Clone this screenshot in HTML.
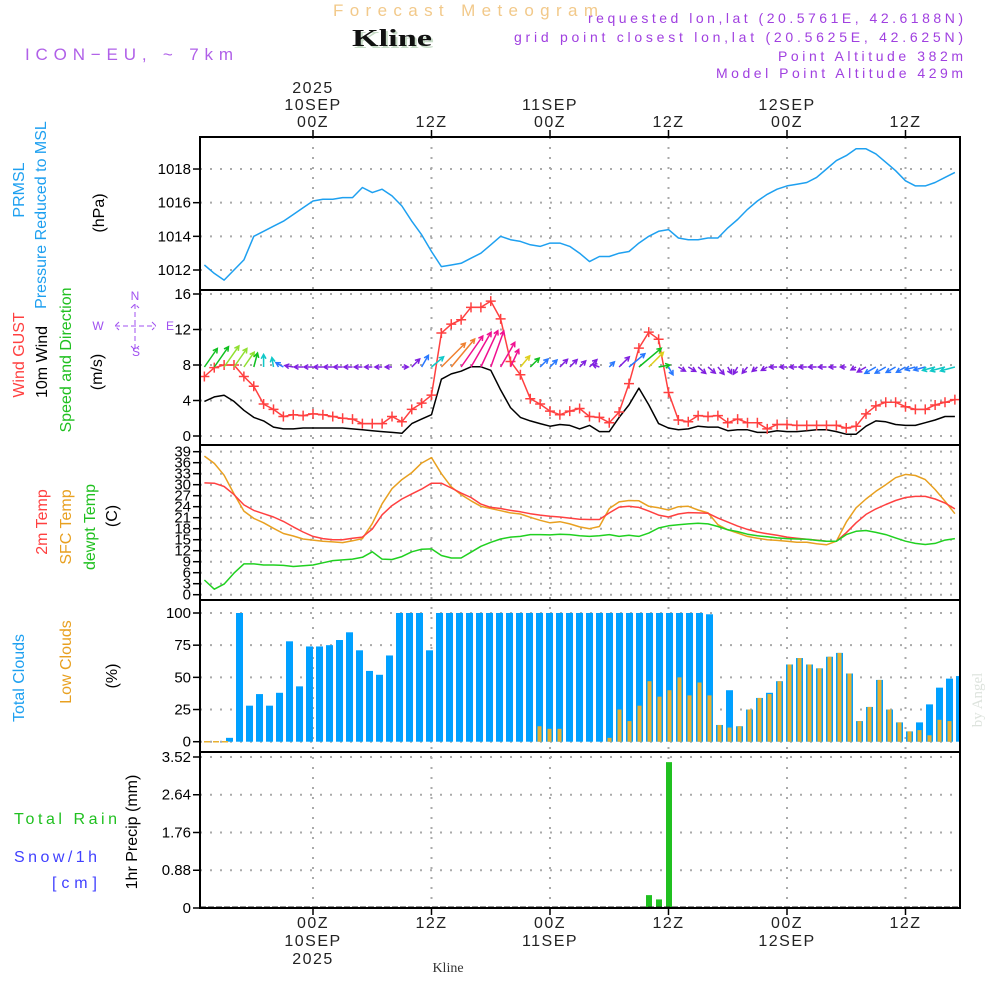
<!DOCTYPE html>
<html><head><meta charset="utf-8"><title>Forecast Meteogram Kline</title>
<style>
html,body{margin:0;padding:0;background:#fff;}
svg{display:block;font-family:"Liberation Sans",sans-serif;}
</style></head>
<body>
<svg id="chart" width="1000" height="1000" viewBox="0 0 1000 1000">
<rect x="0" y="0" width="1000" height="1000" fill="#fff"/>
<text x="333" y="16" textLength="265" lengthAdjust="spacing" font-size="17" fill="#f2c98a">Forecast Meteogram</text>
<text x="354" y="48" textLength="80" lengthAdjust="spacingAndGlyphs" font-size="24" font-weight="bold" font-family="Liberation Serif,serif" fill="#c8dcc8">Kline</text>
<text x="352" y="46" textLength="80" lengthAdjust="spacingAndGlyphs" font-size="24" font-weight="bold" font-family="Liberation Serif,serif" fill="#111">Kline</text>
<text x="25" y="60" textLength="208" lengthAdjust="spacing" font-size="17" fill="#b060e8">ICON−EU, ~ 7km</text>
<g font-size="14" fill="#a040e0">
<text x="588" y="23" textLength="375" lengthAdjust="spacing">requested lon,lat (20.5761E, 42.6188N)</text>
<text x="514" y="42" textLength="449" lengthAdjust="spacing">grid point closest lon,lat (20.5625E, 42.625N)</text>
<text x="778" y="61" textLength="185" lengthAdjust="spacing">Point Altitude 382m</text>
<text x="716" y="78" textLength="247" lengthAdjust="spacing">Model Point Altitude 429m</text>
</g>
<g id="axes"></g>
<g id="marks"></g>
<text transform="translate(982,700) rotate(-90)" text-anchor="middle" font-size="15" font-family="Liberation Serif,serif" fill="#dde3dd">by Angel</text>
</svg>
<script>
// ---- data (hourly, hour -11 .. 65 relative to 00Z 10SEP) ----
var hourStart = -11;
var timeTickHours = [0, 12, 24, 36, 48, 60];
var timeTickTop = [["2025","10SEP","00Z"],["12Z"],["11SEP","00Z"],["12Z"],["12SEP","00Z"],["12Z"]];
var timeTickBottom = [["00Z","10SEP","2025"],["12Z"],["00Z","11SEP"],["12Z"],["00Z","12SEP"],["12Z"]];
var pressure = [1012.3,1011.8,1011.4,1012.0,1012.6,1014.0,1014.3,1014.6,1014.9,1015.3,1015.7,1016.1,1016.2,1016.2,1016.3,1016.3,1016.9,1016.6,1016.8,1016.4,1015.8,1014.9,1014.1,1013.1,1012.2,1012.3,1012.4,1012.7,1013.0,1013.5,1014.0,1013.8,1013.7,1013.5,1013.4,1013.6,1013.6,1013.4,1013.0,1012.5,1012.8,1012.8,1013.0,1013.1,1013.6,1014.0,1014.3,1014.4,1013.9,1013.8,1013.8,1013.9,1013.9,1014.5,1015.0,1015.6,1016.1,1016.5,1016.8,1017.0,1017.1,1017.2,1017.5,1018.0,1018.5,1018.8,1019.2,1019.2,1018.9,1018.4,1017.9,1017.3,1017.0,1017.0,1017.2,1017.5,1017.8];
var pressureTicks = [1012,1014,1016,1018];
var gust = [6.7,7.7,8.0,8.0,6.7,5.6,3.6,3.0,2.2,2.4,2.3,2.5,2.4,2.2,2.0,1.9,1.4,1.4,1.4,2.2,1.6,3.0,3.7,4.6,11.6,12.6,13.1,14.5,14.5,15.2,13.2,8.4,6.9,4.2,3.6,2.8,2.4,2.8,3.1,2.2,2.1,1.5,2.7,5.9,9.9,11.7,10.9,4.9,1.8,1.6,2.3,2.2,2.3,1.5,1.9,1.5,1.5,0.8,1.3,1.3,1.2,1.2,1.2,1.2,1.2,0.9,1.1,2.5,3.4,3.8,3.8,3.3,3.0,3.0,3.5,3.8,4.1];
var wind10m = [3.9,4.4,4.6,3.9,2.9,2.1,1.7,1.0,0.8,0.8,0.9,0.9,0.9,0.9,0.9,0.8,0.7,0.6,0.5,0.4,0.3,1.4,1.9,2.4,6.4,7.0,7.3,7.8,7.8,7.4,5.2,3.2,2.1,1.7,1.4,1.1,1.3,1.2,0.8,1.2,0.5,0.5,2.1,3.5,5.4,3.5,1.4,0.9,0.7,0.8,1.1,1.0,1.0,0.6,0.7,0.7,0.4,0.4,0.6,0.5,0.5,0.6,0.7,0.7,0.5,0.2,0.2,1.1,1.7,1.6,1.3,1.2,1.2,1.5,1.8,2.2,2.2];
var windDir = [55,55,55,55,55,75,90,100,150,170,180,180,180,180,180,180,180,180,180,180,0,45,60,40,45,50,55,60,65,70,60,65,50,45,45,45,45,45,45,45,160,45,45,40,40,45,10,-60,-30,-30,-40,-40,-50,-60,-120,-130,-140,-150,180,180,180,180,180,180,180,180,210,210,210,210,210,210,195,195,195,195,195];
var windColorCode = "gglllgccbpppppppppppppbcoommmmmmygbbpppppbpbgygbppppppppppppppppppppbbbbbbccccc";
var temp2m = [30.5,30.4,29.5,27.3,24.5,23.0,22.1,21.2,20.0,18.5,17.1,15.9,15.3,15.0,15.0,15.4,15.7,17.9,21.8,24.3,26.1,27.5,28.8,30.4,30.4,29.1,27.7,26.5,24.7,23.8,23.5,23.0,22.6,22.1,21.7,21.4,21.2,20.9,20.6,20.5,20.5,22.3,23.9,24.1,23.8,22.8,21.7,21.2,22.0,22.4,22.3,22.2,20.9,19.8,18.7,17.8,17.1,16.6,16.2,15.7,15.4,15.1,14.9,14.6,14.6,16.9,19.6,21.9,23.4,24.6,25.7,26.5,26.8,26.8,26.1,25.0,23.4];
var tempSfc = [37.8,35.8,32.6,27.5,22.8,20.8,19.6,18.1,16.7,16.0,15.2,14.9,14.6,14.4,14.2,14.7,15.3,19.4,24.8,28.9,31.4,33.3,35.9,37.4,33.0,29.4,27.3,25.6,24.1,23.5,22.9,22.3,22.0,21.1,20.3,19.6,19.9,19.3,18.5,18.0,18.6,23.5,25.3,25.7,25.6,24.1,23.7,23.1,24.0,24.1,23.1,22.3,19.1,17.7,16.8,15.9,15.4,15.0,14.8,14.6,14.3,14.3,13.9,13.6,14.6,19.8,23.7,26.1,28.2,30.0,31.9,32.8,32.5,31.4,28.7,25.5,22.1];
var dewpt = [4.0,1.5,2.9,5.9,8.4,8.4,8.1,8.1,8.0,7.7,7.9,8.1,8.7,9.3,9.5,9.7,10.2,11.7,9.7,9.6,10.4,11.7,12.4,12.5,10.7,10.0,10.0,11.6,13.2,14.3,15.2,15.7,15.9,16.4,16.4,16.3,16.5,16.4,16.1,15.9,16.1,16.4,15.9,16.2,15.9,16.8,18.2,18.8,19.1,19.3,19.5,19.3,18.6,17.7,17.2,16.5,16.1,15.8,15.5,15.3,15.2,15.1,14.8,14.6,14.6,16.4,17.3,17.5,17.0,16.4,15.5,14.6,14.0,13.7,14.0,14.9,15.3];
var tempTicks = [0,3,6,9,12,15,18,21,24,27,30,33,36,39];
var cloudHourStart = -10;
var totalClouds = [0,0,3,100,28,37,28,38,78,43,74,74,75,79,85,71,55,52,67,100,100,100,71,100,100,100,100,100,100,100,100,100,100,100,100,100,100,100,100,100,100,100,100,100,100,100,100,100,100,100,99,13,40,12,25,34,38,47,60,65,60,57,66,69,53,16,27,48,25,15,8,15,29,42,49,51];
var lowClouds = [0,0,0,0,0,0,0,0,0,0,0,0,0,0,0,0,0,0,0,0,0,0,0,0,0,0,0,0,0,0,0,0,0,12,10,10,0,0,0,0,3,25,16,28,47,35,40,50,36,46,36,13,11,12,25,34,37,47,60,65,60,57,66,69,53,16,27,48,25,15,8,9,5,17,16,0];
var cloudTicks = [0,25,50,75,100];
var precipHours = [34,35,36];
var precipValues = [0.3,0.2,3.4];
var precipTicks = [0,0.88,1.76,2.64,3.52];

// ---- axis functions ----
var X0 = 200, X1 = 960;
function xs(h){ return 313 + h*9.875; }
function bx(h){ return 306 + h*10; }
function yP(v){ return 270 - (v-1012)*16.83; }
function yW(v){ return 436 - v*8.875; }
function yT(v){ return 594.7 - v*3.667; }
function yC(v){ return 741.7 - v*1.287; }
function yR(v){ return 908 - v*42.9; }
var panels = [[137,290,'pressure-panel'],[290,445,'wind-panel'],[445,600,'temperature-panel'],[600,752,'cloud-panel'],[752,908,'precip-panel']];

var NS = 'http://www.w3.org/2000/svg';
var axes = document.getElementById('axes');
var marks = document.getElementById('marks');
function mk(parent, tag, attrs){
  var e = document.createElementNS(NS, tag);
  for (var k in attrs) e.setAttribute(k, attrs[k]);
  parent.appendChild(e);
  return e;
}
function txt(parent, x, y, s, attrs){
  var e = mk(parent, 'text', attrs);
  e.setAttribute('x', x); e.setAttribute('y', y);
  e.textContent = s;
  return e;
}
function rtxt(parent, x, y, s, fill, size){
  var e = mk(parent, 'text', {transform:'translate('+x+','+y+') rotate(-90)','text-anchor':'middle','font-size':size||15,fill:fill});
  e.textContent = s;
  return e;
}
var el;
function hgrid(y, name){
  el = mk(axes,'line',{x1:X0,x2:X1,y1:y,y2:y,stroke:'#aaa','stroke-width':2,'stroke-dasharray':'2,8'});
  
  
}
function ytick(y, label, name){
  el = mk(axes,'line',{x1:193,x2:200,y1:y,y2:y,stroke:'#000','stroke-width':1.5});
  
  
  el = txt(axes, 191, y+5, label, {'text-anchor':'end','font-size':15,fill:'#000'});
  
  
}
pressureTicks.forEach(function(v){ hgrid(yP(v),'pressure-gridline'); ytick(yP(v), String(v), 'pressure-axis'); });
[0,4,8,12,16].forEach(function(v){ hgrid(yW(v),'wind-gridline'); ytick(yW(v), String(v), 'wind-axis'); });
tempTicks.forEach(function(v){ hgrid(yT(v),'temp-gridline'); ytick(yT(v), String(v), 'temp-axis'); });
cloudTicks.forEach(function(v){ hgrid(yC(v),'cloud-gridline'); ytick(yC(v), String(v), 'cloud-axis'); });
precipTicks.forEach(function(v){ if(v>0) hgrid(yR(v),'precip-gridline'); ytick(yR(v), v===0?'0':v.toFixed(2), 'precip-axis'); });
timeTickHours.forEach(function(h, i){
  var x = xs(h);
  el = mk(axes,'line',{x1:x,x2:x,y1:137,y2:908,stroke:'#aaa','stroke-width':2,'stroke-dasharray':'2,8'});
  
  
  el = mk(axes,'line',{x1:x,x2:x,y1:130,y2:137,stroke:'#000','stroke-width':1.5});
  
  
  el = mk(axes,'line',{x1:x,x2:x,y1:908,y2:915,stroke:'#000','stroke-width':1.5});
  
  
  var top = timeTickTop[i];
  top.forEach(function(s, j){
    el = txt(axes, x, 127 - (top.length-1-j)*17, s, {'text-anchor':'middle','font-size':16,fill:'#222','letter-spacing':'1.5'});
    
    
  });
  timeTickBottom[i].forEach(function(s, j){
    el = txt(axes, x, 928 + j*18, s, {'text-anchor':'middle','font-size':16,fill:'#222','letter-spacing':'1.5'});
    
    
  });
});
el = txt(axes, 448, 972, 'Kline', {'text-anchor':'middle','font-size':14,'font-family':'Liberation Serif,serif',fill:'#333'});



function lt(x,y,s,fill,name){ el = rtxt(axes,x,y,s,fill,16);   }
lt(24,190,'PRMSL','#1ea0f0','pressure-title');
lt(46,215,'Pressure Reduced to MSL','#1ea0f0','pressure-subtitle');
lt(104,213,'(hPa)','#000','pressure-unit');
lt(24,355,'Wind GUST','#ff4040','gust-title');
lt(47,362,'10m Wind','#000','wind-title');
lt(71,360,'Speed and Direction','#20c020','wind-direction-title');
lt(102,372,'(m/s)','#000','wind-unit');
lt(47,522,'2m Temp','#ff4040','temp2m-title');
lt(71,527,'SFC Temp','#e8a020','sfc-temp-title');
lt(95,527,'dewpt Temp','#20c020','dewpt-title');
lt(117,516,'(C)','#000','temp-unit');
lt(24,678,'Total Clouds','#1ea0f0','total-clouds-title');
lt(71,662,'Low Clouds','#e8a020','low-clouds-title');
lt(117,676,'(%)','#000','cloud-unit');
lt(137,832,'1hr Precip (mm)','#000','precip-title');
el = txt(axes,14,824,'Total  Rain',{'font-size':16,fill:'#20c020','xml:space':'preserve',textLength:103,lengthAdjust:'spacing'});


el = txt(axes,14,862,'Snow/1h',{'font-size':16,fill:'#4040ff',textLength:83,lengthAdjust:'spacing'});


el = txt(axes,52,888,'[cm]',{'font-size':16,fill:'#4040ff',textLength:45,lengthAdjust:'spacing'});


var cg = mk(axes,'g',{fill:'#a050f0','font-size':12,'text-anchor':'middle'});


txt(cg,135,300,'N',{}); txt(cg,98,330,'W',{}); txt(cg,170,330,'E',{}); txt(cg,136,356,'S',{});
mk(cg,'path',{d:'M115 326 H156 M135 304 V350 M119 322 L115 326 L119 330 M152 322 L156 326 L152 330 M131 308 L135 304 L139 308 M131 346 L135 350 L139 346',stroke:'#a050f0','stroke-width':1,fill:'none','stroke-dasharray':'5,3'});

// ---- marks ----
function line(arr, xf, yf, color, name, w){
  var d = arr.map(function(v,i){ return (i?'L':'M') + xf(hourStart+i).toFixed(1) + ' ' + yf(v).toFixed(1); }).join(' ');
  el = mk(marks,'path',{d:d,fill:'none',stroke:color,'stroke-width':w||1.5,'stroke-linejoin':'round'});
  
  
}
line(pressure, xs, yP, '#1ea0f0', 'pressure-line');
totalClouds.forEach(function(v,i){
  var h = cloudHourStart + i, x = bx(h);
  if (v > 0){
    el = mk(marks,'rect',{x:x,y:yC(v),width:Math.min(7,X1-x),height:yC(0)-yC(v),fill:'#00a0ff'});
    
    
  }
  var lv = lowClouds[i];
  if (lv > 0){
    el = mk(marks,'rect',{x:x+1.5,y:yC(lv),width:Math.max(0,Math.min(4,X1-x-1.5)),height:yC(0)-yC(lv),fill:'#e8b030'});
    
    
  }
});
el = mk(marks,'line',{x1:204,x2:230,y1:yC(0),y2:yC(0),stroke:'#e8b030','stroke-width':1.5,'stroke-dasharray':'6,3'});


precipHours.forEach(function(h,i){
  el = mk(marks,'rect',{x:bx(h),y:yR(precipValues[i]),width:6,height:yR(0)-yR(precipValues[i]),fill:'#20c020'});
  
  
});
el = mk(marks,'line',{x1:X0,x2:X1,y1:yR(0)-1,y2:yR(0)-1,stroke:'#222','stroke-width':1,'stroke-dasharray':'6,2'});


line(tempSfc, xs, yT, '#e8a020', 'sfc-temp-line');
line(temp2m, xs, yT, '#ff4040', '2m-temp-line');
line(dewpt, xs, yT, '#20d020', 'dewpt-line');
line(wind10m, xs, yW, '#000', 'wind-10m-line');
line(gust, xs, yW, '#ff4040', 'gust-line');
gust.forEach(function(v,i){
  var x = xs(hourStart+i), y = yW(v);
  el = mk(marks,'path',{d:'M'+(x-5)+' '+y+' H'+(x+5)+' M'+x+' '+(y-5)+' V'+(y+5),stroke:'#ff4040','stroke-width':1.5});
  
  
});
var colorMap = {g:'#10c020',l:'#90e030',c:'#10c8c8',b:'#2878ff',p:'#8020e0',o:'#f08030',m:'#f01090',y:'#e0d020'};
windDir.forEach(function(d,i){
  var sp = wind10m[i], L = 5 + 4.5*sp;
  var a = d*Math.PI/180;
  var x0 = xs(hourStart+i), y0 = 367;
  var x1 = x0 + L*Math.cos(a), y1 = y0 - L*Math.sin(a);
  var hl = 5, a1 = a + Math.PI - 0.5, a2 = a + Math.PI + 0.5;
  var dd = 'M'+x0.toFixed(1)+' '+y0+' L'+x1.toFixed(1)+' '+y1.toFixed(1)+
    ' M'+(x1+hl*Math.cos(a1)).toFixed(1)+' '+(y1-hl*Math.sin(a1)).toFixed(1)+' L'+x1.toFixed(1)+' '+y1.toFixed(1)+
    ' L'+(x1+hl*Math.cos(a2)).toFixed(1)+' '+(y1-hl*Math.sin(a2)).toFixed(1);
  el = mk(marks,'path',{d:dd,fill:'none',stroke:colorMap[windColorCode.charAt(i)]||'#8020e0','stroke-width':1.5});
  
  
});
panels.forEach(function(p){
  el = mk(marks,'rect',{x:X0,y:p[0],width:X1-X0,height:p[1]-p[0],fill:'none',stroke:'#000','stroke-width':2});
  
  
});
</script>
</body></html>
